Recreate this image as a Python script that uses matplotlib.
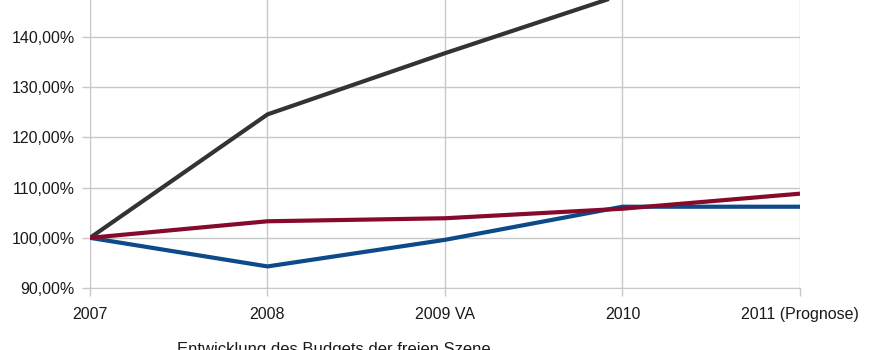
import matplotlib
matplotlib.use("Agg")
import matplotlib.pyplot as plt

categories = ["2007", "2008", "2009 VA", "2010", "2011 (Prognose)"]
black_vals = [100.0, 124.6, 136.8, 148.5, 152.0]
red_vals = [100.0, 103.3, 103.9, 105.8, 108.8]
blue_vals = [100.0, 94.3, 99.6, 106.2, 106.2]
yticks = [90, 100, 110, 120, 130, 140]
ytick_labels = ["90,00%", "100,00%", "110,00%", "120,00%", "130,00%", "140,00%"]
footer = "Entwicklung des Budgets der freien Szene"

plt.rcParams['font.family'] = ['Liberation Sans', 'DejaVu Sans']

W, H = 870, 350
fig = plt.figure(figsize=(W / 100, H / 100), dpi=100)
ax = fig.add_axes([90 / W, 1 - 288 / H, (800 - 90) / W, 288 / H])

x = list(range(len(categories)))
grid_c = "#c8c8c8"
ax.plot(x, black_vals, color="#333333", lw=3.0, solid_capstyle="butt", zorder=3)
ax.plot(x, blue_vals, color="#0d4a8a", lw=3.0, solid_capstyle="butt", zorder=4)
ax.plot(x, red_vals, color="#860a2c", lw=3.0, solid_capstyle="butt", zorder=5)

ax.set_xlim(0, len(categories) - 1)
ax.set_ylim(90, 147.4)
ax.set_xticks(x)
ax.set_xticklabels(categories)
ax.set_yticks(yticks)
ax.set_yticklabels(ytick_labels)
ax.grid(True, color=grid_c, lw=1.0)
ax.set_axisbelow(True)
for s in ax.spines.values():
    s.set_visible(False)
ax.spines['left'].set_visible(True)
ax.spines['left'].set_color(grid_c)
ax.spines['bottom'].set_visible(True)
ax.spines['bottom'].set_color(grid_c)
ax.tick_params(axis="both", direction="out", length=6, width=1.0, color=grid_c,
               labelsize=11.5, labelcolor="#1a1a1a")
ax.tick_params(axis="y", pad=5)
ax.tick_params(axis="x", pad=8)

fig.text(177 / W, 1 - 342 / H, footer, ha="left", va="top", fontsize=12, color="#1a1a1a")

fig.savefig("out.png", dpi=100)
